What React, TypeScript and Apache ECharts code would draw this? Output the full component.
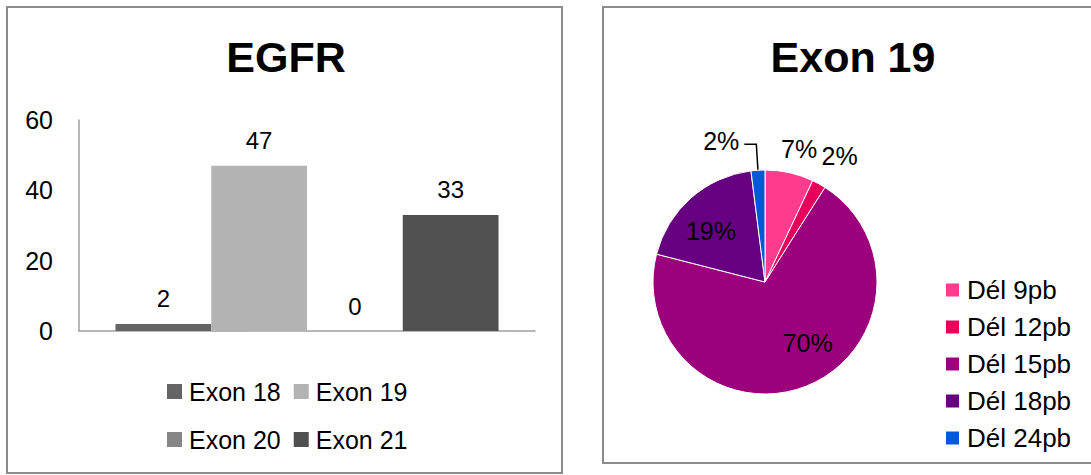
import React, { useEffect, useRef } from 'react';
import * as echarts from 'echarts';

const barCategories = [''];
const barSeriesNames = ['Exon 18', 'Exon 19', 'Exon 20', 'Exon 21'];
const barValues = [2, 47, 0, 33];
const barColors = ['#646464', '#b3b3b3', '#868686', '#505050'];
const yMin = 0;
const yMax = 60;
const yInterval = 20;

const pieNames = ['Dél 9pb', 'Dél 12pb', 'Dél 15pb', 'Dél 18pb', 'Dél 24pb'];
const pieValues = [7, 2, 70, 19, 2];
const pieColors = ['#ff3b8d', '#e6005c', '#9c007c', '#660080', '#005ad6'];
const pieLabelPositions = ['outside', 'outside', 'inside', 'inside', 'outside'];
const pieLabelLineShow = [false, false, false, false, true];
const pieLabelShift = [[-31, 2], [-27, -5], [21, 6], [-15, -7], [0, -3]];

const FONT = '"Liberation Sans", Arial, sans-serif';

export default function App() {
  const ref = useRef<HTMLDivElement>(null);
  useEffect(() => {
    if (!ref.current) return;
    const chart = echarts.init(ref.current, null, { renderer: 'svg' });
    const option: any = {
      animation: false,
      backgroundColor: '#ffffff',
      textStyle: { fontFamily: FONT, color: '#000' },
      graphic: [
        {
          type: 'rect',
          z: -10,
          shape: { x: 7, y: 7, width: 555, height: 466 },
          style: { fill: '#fff', stroke: '#8c8c8c', lineWidth: 2 },
        },
        {
          type: 'rect',
          z: -10,
          shape: { x: 603, y: 7, width: 500, height: 456 },
          style: { fill: '#fff', stroke: '#8c8c8c', lineWidth: 2 },
        },
      ],
      title: [
        {
          text: 'EGFR',
          left: 286,
          top: 35,
          padding: 0,
          textAlign: 'center',
          textStyle: { fontFamily: FONT, fontSize: 43, fontWeight: 'bold', color: '#000' },
        },
        {
          text: 'Exon 19',
          left: 853,
          top: 35,
          padding: 0,
          textAlign: 'center',
          textStyle: { fontFamily: FONT, fontSize: 43, fontWeight: 'bold', color: '#000' },
        },
      ],
      legend: [
        {
          data: barSeriesNames,
          left: 167,
          top: 374,
          width: 250,
          padding: 0,
          orient: 'horizontal',
          icon: 'rect',
          itemWidth: 15,
          itemHeight: 15,
          itemGap: 13,
          textStyle: { fontFamily: FONT, fontSize: 25, color: '#000', lineHeight: 35, padding: [0, 0, 0, 2] },
        },
        {
          data: pieNames,
          left: 944,
          top: 276,
          padding: 0,
          orient: 'vertical',
          icon: 'rect',
          itemWidth: 15,
          itemHeight: 15,
          itemGap: 9,
          textStyle: { fontFamily: FONT, fontSize: 26, color: '#000', lineHeight: 28, padding: [0, 0, 0, 2] },
        },
      ],
      grid: { left: 79, top: 120, width: 456, height: 211, containLabel: false },
      xAxis: {
        type: 'category',
        data: barCategories,
        axisLine: { show: true, lineStyle: { color: '#a0a0a0', width: 1.5 } },
        axisTick: { show: false },
        axisLabel: { show: false },
      },
      yAxis: {
        type: 'value',
        min: yMin,
        max: yMax,
        interval: yInterval,
        axisLine: { show: true, lineStyle: { color: '#a0a0a0', width: 1.5 } },
        axisTick: { show: false },
        splitLine: { show: false },
        axisLabel: { fontFamily: FONT, fontSize: 25, color: '#000', margin: 26 },
      },
      series: [
        ...barSeriesNames.map((name, i) => ({
          type: 'bar',
          name,
          data: [barValues[i]],
          itemStyle: { color: barColors[i] },
          barGap: '0%',
          barCategoryGap: '16%',
          label: {
            show: true,
            position: 'top',
            distance: 13,
            fontFamily: FONT,
            fontSize: 24,
            color: '#000',
          },
        })),
        {
          type: 'pie',
          name: 'Exon 19',
          center: [765, 282],
          radius: 112,
          startAngle: 90,
          clockwise: true,
          avoidLabelOverlap: false,
          itemStyle: { borderColor: '#ffffff', borderWidth: 1 },
          label: {
            fontFamily: FONT,
            fontSize: 25,
            color: '#000',
            formatter: (p: any) => Math.round(p.percent) + '%',
          },
          labelLine: { lineStyle: { color: '#000', width: 1.5 }, smooth: false },
          labelLayout: (params: any) => ({
            dx: pieLabelShift[params.dataIndex][0],
            dy: pieLabelShift[params.dataIndex][1],
          }),
          data: pieNames.map((name, i) => ({
            name,
            value: pieValues[i],
            itemStyle: { color: pieColors[i] },
            label: { position: pieLabelPositions[i] },
            labelLine: { show: pieLabelLineShow[i], length: 26, length2: 12 },
          })),
        },
      ],
    };
    chart.setOption(option);
    return () => chart.dispose();
  }, []);
  return (
    <div
      ref={ref}
      style={{ position: 'absolute', left: 0, top: 0, width: 1091, height: 475 }}
    />
  );
}
